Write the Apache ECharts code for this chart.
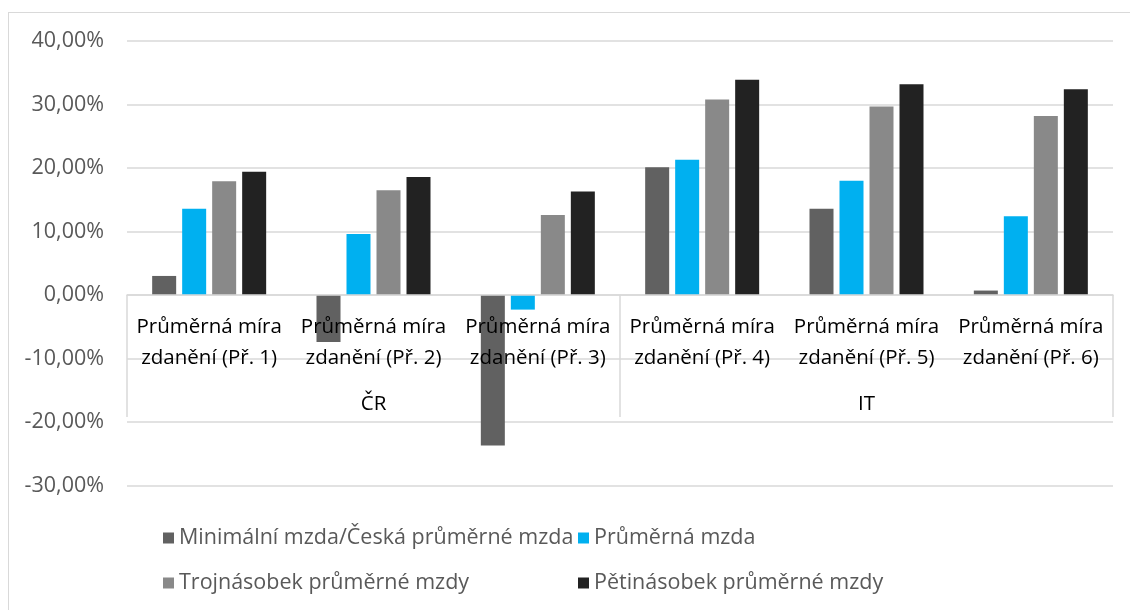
<!DOCTYPE html>
<html>
<head>
<meta charset="utf-8">
<script src="https://cdn.jsdelivr.net/npm/echarts@6/dist/echarts.min.js"></script>
<style>
html,body{margin:0;padding:0;background:#fff;}
#frame{position:absolute;left:8px;top:12px;width:1200px;height:700px;border-left:1.5px solid #d9d9d9;border-top:1.5px solid #d9d9d9;box-sizing:border-box;}
#chart{position:absolute;left:0;top:0;width:1130px;height:610px;}
</style>
</head>
<body>
<div id="frame"></div>
<div id="chart"></div>
<script>
var categories = ['Průměrná míra\nzdanění (Př. 1)','Průměrná míra\nzdanění (Př. 2)','Průměrná míra\nzdanění (Př. 3)','Průměrná míra\nzdanění (Př. 4)','Průměrná míra\nzdanění (Př. 5)','Průměrná míra\nzdanění (Př. 6)'];
var groups = ['ČR','IT'];
var seriesNames = ['Minimální mzda/Česká průměrné mzda','Průměrná mzda','Trojnásobek průměrné mzdy','Pětinásobek průměrné mzdy'];
var minWage = [3.0, -7.4, -23.7, 20.1, 13.6, 0.7];
var avgWage = [13.6, 9.6, -2.3, 21.3, 18.0, 12.4];
var tripleWage = [17.9, 16.5, 12.6, 30.8, 29.7, 28.2];
var fiveWage = [19.4, 18.6, 16.3, 33.9, 33.2, 32.4];
var colors = ['#616161','#00b0f0','#898989','#222222'];

var chart = echarts.init(document.getElementById('chart'), null, {renderer:'canvas'});
var font = 'Open Sans';
var values = [minWage, avgWage, tripleWage, fiveWage];
var series = values.map(function(v,i){
  return {name: seriesNames[i], type:'bar', data:v, barWidth:24, barGap:'25%',
    itemStyle:{color:colors[i]}, z:2};
});
function legendAt(i, left, top){
  return {data:[seriesNames[i]], left:left, top:top, icon:'rect', itemWidth:11, itemHeight:11, itemGap:0,
    selectedMode:false, textStyle:{fontFamily:font, fontSize:21.5, color:'#595959', padding:[0,0,0,0]}, padding:0};
}
chart.setOption({
  animation:false,
  backgroundColor:'transparent',
  color: colors,
  grid:{left:127, right:17, top:41, bottom:124.5, containLabel:false},
  legend:[legendAt(0,163,527), legendAt(1,578,527), legendAt(2,163,572), legendAt(3,578,572)],
  xAxis:[
    {type:'category', data:categories, position:'top', offset:-254, z:10,
      axisLine:{onZero:false, lineStyle:{color:'#d9d9d9', width:1.5}},
      axisTick:{show:false},
      axisLabel:{inside:true, interval:0, margin:17, fontFamily:font, fontSize:20.5, lineHeight:31, color:'#000'}},
    {type:'category', data:groups, position:'bottom', offset:-68.5, z:10,
      axisLine:{show:false, onZero:false},
      axisTick:{show:true, inside:true, length:122, lineStyle:{color:'#d9d9d9', width:1.5}},
      axisLabel:{inside:true, margin:1, fontFamily:font, fontSize:20.5, lineHeight:24, color:'#000'}}
  ],
  yAxis:{type:'value', min:-30, max:40, interval:10,
    axisLine:{show:false}, axisTick:{show:false},
    splitLine:{lineStyle:{color:'#d9d9d9', width:1.5}},
    axisLabel:{margin:23, fontFamily:font, fontSize:21.5, color:'#595959',
      formatter:function(v){return v.toFixed(2).replace('.',',')+'%';}}},
  series: series
});
</script>
</body>
</html>
